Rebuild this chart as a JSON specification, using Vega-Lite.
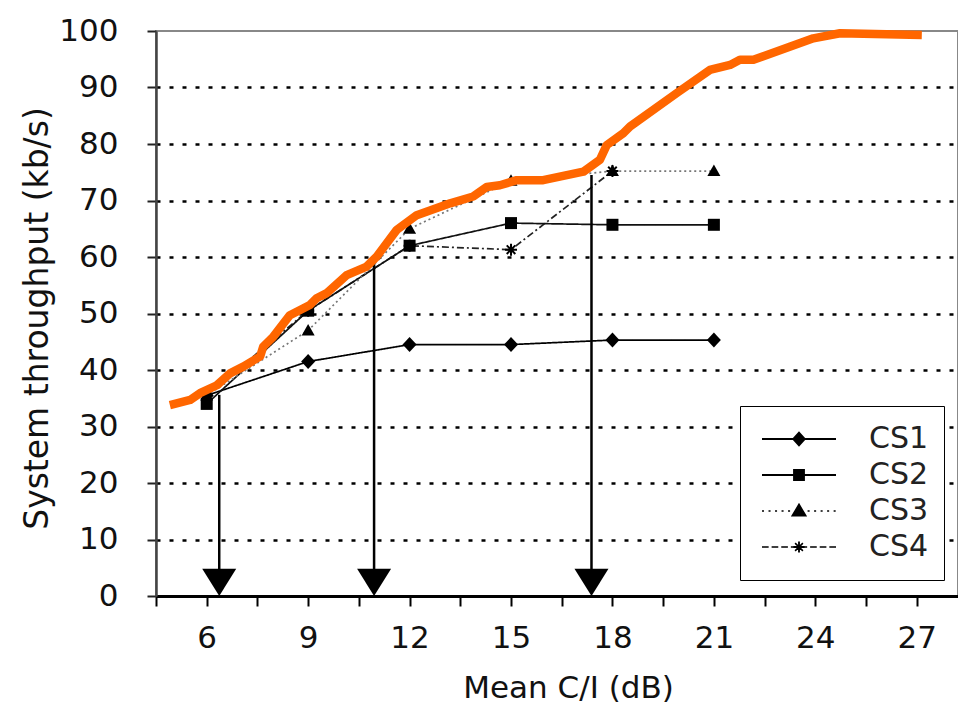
{
  "$schema": "https://vega.github.io/schema/vega-lite/v6.json",
  "width": 802,
  "height": 565,
  "autosize": {"type": "none"},
  "padding": {"left": 156, "top": 31, "right": 0, "bottom": 111},
  "background": "white",
  "config": {"view": {"stroke": "#888", "strokeWidth": 2}, "font": "DejaVu Sans"},
  "datasets": {
    "series": [
      {"scheme": "CS4", "snr": 6, "tput": 35.5},
      {"scheme": "CS4", "snr": 9, "tput": 50.5},
      {"scheme": "CS4", "snr": 12, "tput": 62},
      {"scheme": "CS4", "snr": 15, "tput": 61.3},
      {"scheme": "CS4", "snr": 18, "tput": 75.2},
      {"scheme": "CS1", "snr": 6, "tput": 35.5},
      {"scheme": "CS1", "snr": 9, "tput": 41.5},
      {"scheme": "CS1", "snr": 12, "tput": 44.5},
      {"scheme": "CS1", "snr": 15, "tput": 44.5},
      {"scheme": "CS1", "snr": 18, "tput": 45.3},
      {"scheme": "CS1", "snr": 21, "tput": 45.3},
      {"scheme": "CS2", "snr": 6, "tput": 34},
      {"scheme": "CS2", "snr": 9, "tput": 50.5},
      {"scheme": "CS2", "snr": 12, "tput": 62},
      {"scheme": "CS2", "snr": 15, "tput": 66},
      {"scheme": "CS2", "snr": 18, "tput": 65.7},
      {"scheme": "CS2", "snr": 21, "tput": 65.7},
      {"scheme": "CS3", "snr": 6, "tput": 35.5},
      {"scheme": "CS3", "snr": 9, "tput": 47},
      {"scheme": "CS3", "snr": 12, "tput": 65},
      {"scheme": "CS3", "snr": 15, "tput": 73.5},
      {"scheme": "CS3", "snr": 18, "tput": 75.2},
      {"scheme": "CS3", "snr": 21, "tput": 75.2}
    ],
    "envelope": [
      {"snr": 4.91, "tput": 33.8},
      {"snr": 5.51, "tput": 34.7},
      {"snr": 5.8, "tput": 35.9},
      {"snr": 6.3, "tput": 37.3},
      {"snr": 6.69, "tput": 39.4},
      {"snr": 7.08, "tput": 40.6},
      {"snr": 7.58, "tput": 42.4},
      {"snr": 7.67, "tput": 44.1},
      {"snr": 7.97, "tput": 45.9},
      {"snr": 8.46, "tput": 49.7},
      {"snr": 9.05, "tput": 51.5},
      {"snr": 9.25, "tput": 52.7},
      {"snr": 9.55, "tput": 53.6},
      {"snr": 10.14, "tput": 56.8},
      {"snr": 10.73, "tput": 58.3},
      {"snr": 11.03, "tput": 60.1},
      {"snr": 11.62, "tput": 64.8},
      {"snr": 12.21, "tput": 67.4},
      {"snr": 13.2, "tput": 69.5},
      {"snr": 13.88, "tput": 70.7},
      {"snr": 14.28, "tput": 72.4},
      {"snr": 14.67, "tput": 72.7},
      {"snr": 15.17, "tput": 73.6},
      {"snr": 15.95, "tput": 73.6},
      {"snr": 17.14, "tput": 75.1},
      {"snr": 17.63, "tput": 77.2},
      {"snr": 17.83, "tput": 79.8},
      {"snr": 18.32, "tput": 81.9},
      {"snr": 18.52, "tput": 83.1},
      {"snr": 19.9, "tput": 89.0},
      {"snr": 20.88, "tput": 93.1},
      {"snr": 21.48, "tput": 94.0},
      {"snr": 21.77, "tput": 94.9},
      {"snr": 22.17, "tput": 94.9},
      {"snr": 23.94, "tput": 98.7},
      {"snr": 24.73, "tput": 99.6},
      {"snr": 27.15, "tput": 99.3}
    ],
    "arrows": [
      {"snr": 6.37, "tput": 35.6},
      {"snr": 10.95, "tput": 59.6},
      {"snr": 17.38, "tput": 74.5}
    ]
  },
  "layer": [
    {
      "data": {"name": "series"},
      "mark": {"type": "line", "strokeWidth": 1.7},
      "encoding": {
        "x": {
          "field": "snr",
          "type": "quantitative",
          "scale": {"domain": [4.5, 28.22], "nice": false, "zero": false},
          "axis": {
            "title": "Mean C/I (dB)",
            "values": [4.5, 6, 7.5, 9, 10.5, 12, 13.5, 15, 16.5, 18, 19.5, 21, 22.5, 24, 25.5, 27],
            "labelExpr": "datum.value % 3 === 0 ? datum.label : ''",
            "grid": false,
            "domainColor": "black",
            "domainWidth": 3,
            "tickColor": "black",
            "tickWidth": 2,
            "tickSize": 10,
            "labelPadding": 17,
            "labelFont": "DejaVu Sans",
            "labelFontSize": 31,
            "labelColor": "#111",
            "labelFlush": false,
            "labelOverlap": false,
            "titleFont": "DejaVu Sans",
            "titleFontSize": 31,
            "titleFontWeight": "normal",
            "titleColor": "#111",
            "titleX": 412,
            "titleY": 101,
            "titleBaseline": "alphabetic",
            "titleAlign": "center"
          }
        },
        "y": {
          "field": "tput",
          "type": "quantitative",
          "scale": {"domain": [0, 100], "nice": false},
          "axis": {
            "title": "System throughput (kb/s)",
            "values": [0, 10, 20, 30, 40, 50, 60, 70, 80, 90, 100],
            "grid": true,
            "gridColor": "black",
            "gridDash": [4, 9],
            "gridWidth": 2.5,
            "gridOpacity": {"condition": {"test": "datum.value === 0 || datum.value === 100", "value": 0}, "value": 1},
            "domainColor": "#444",
            "domainWidth": 2.5,
            "tickColor": "#222",
            "tickWidth": 2,
            "tickSize": 9,
            "labelPadding": 29,
            "labelFont": "DejaVu Sans",
            "labelFontSize": 31,
            "labelColor": "#111",
            "labelFlush": false,
            "labelOverlap": false,
            "titleFont": "DejaVu Sans",
            "titleFontSize": 33,
            "titleFontWeight": "normal",
            "titleColor": "#111",
            "titleX": -109,
            "titleY": 287,
            "titleAngle": -90,
            "titleBaseline": "alphabetic",
            "titleAlign": "center"
          }
        },
        "color": {
          "field": "scheme",
          "type": "nominal",
          "scale": {"domain": ["CS1", "CS2", "CS3", "CS4"], "range": ["#000000", "#111111", "#777777", "#222222"]},
          "legend": null
        },
        "strokeDash": {
          "field": "scheme",
          "type": "nominal",
          "scale": {"domain": ["CS1", "CS2", "CS3", "CS4"], "range": [[1, 0], [1, 0], [2, 3], [7, 3, 2, 3]]},
          "legend": null
        }
      }
    },
    {
      "data": {"name": "series"},
      "mark": {"type": "point", "filled": true, "color": "black", "opacity": 1, "size": 400, "strokeWidth": 0},
      "encoding": {
        "x": {"field": "snr", "type": "quantitative"},
        "y": {"field": "tput", "type": "quantitative"},
        "shape": {
          "field": "scheme",
          "type": "nominal",
          "scale": {
            "domain": ["CS1", "CS2", "CS3", "CS4"],
            "range": [
              "M0,-0.75L0.7,0L0,0.75L-0.7,0Z",
              "M-0.6,-0.6H0.6V0.6H-0.6Z",
              "M0,-0.65L0.65,0.5L-0.65,0.5Z",
              "M-0.6,-0.1H0.6V0.1H-0.6Z M-0.1,-0.6H0.1V0.6H-0.1Z M-0.5,-0.36L-0.36,-0.5L0.5,0.36L0.36,0.5Z M0.36,-0.5L0.5,-0.36L-0.36,0.5L-0.5,0.36Z"
            ]
          },
          "legend": null
        }
      }
    },
    {
      "data": {"name": "series"},
      "mark": {"type": "point", "filled": true, "color": "black", "opacity": 0, "size": 5476, "strokeWidth": 0},
      "encoding": {
        "x": {"field": "snr", "type": "quantitative"},
        "y": {"field": "tput", "type": "quantitative"},
        "shape": {
          "field": "scheme",
          "type": "nominal",
          "scale": {
            "domain": ["CS1", "CS2", "CS3", "CS4"],
            "range": [
              "M-1,-0.03H1V0.03H-1Z M0,-0.21L0.19,0L0,0.21L-0.19,0Z",
              "M-1,-0.03H1V0.03H-1Z M-0.16,-0.16H0.16V0.16H-0.16Z",
              "M-1,-0.02H-0.945V0.02H-1Z M-0.824,-0.02H-0.769V0.02H-0.824Z M-0.648,-0.02H-0.593V0.02H-0.648Z M-0.472,-0.02H-0.417V0.02H-0.472Z M-0.296,-0.02H-0.241V0.02H-0.296Z M-0.12,-0.02H-0.065V0.02H-0.12Z M0.056,-0.02H0.111V0.02H0.056Z M0.232,-0.02H0.287V0.02H0.232Z M0.408,-0.02H0.463V0.02H0.408Z M0.584,-0.02H0.639V0.02H0.584Z M0.76,-0.02H0.815V0.02H0.76Z M0.936,-0.02H0.991V0.02H0.936Z M0,-0.22L0.22,0.15L-0.22,0.15Z",
              "M-1,-0.02H-0.82V0.02H-1Z M-0.74,-0.02H-0.56V0.02H-0.74Z M-0.48,-0.02H-0.3V0.02H-0.48Z M-0.22,-0.02H-0.04V0.02H-0.22Z M0.04,-0.02H0.22V0.02H0.04Z M0.3,-0.02H0.48V0.02H0.3Z M0.56,-0.02H0.74V0.02H0.56Z M0.82,-0.02H1V0.02H0.82Z M-0.15,-0.025H0.15V0.025H-0.15Z M-0.025,-0.15H0.025V0.15H-0.025Z M-0.12,-0.09L-0.09,-0.12L0.12,0.09L0.09,0.12Z M0.09,-0.12L0.12,-0.09L-0.09,0.12L-0.12,0.09Z"
            ]
          },
          "legend": {
            "title": null,
            "orient": "none",
            "legendX": 584,
            "legendY": 375,
            "direction": "vertical",
            "padding": 15,
            "symbolSize": 5476,
            "symbolOffset": 7,
            "symbolFillColor": "black",
            "symbolStrokeColor": "black",
            "symbolStrokeWidth": 0,
            "symbolOpacity": 1,
            "clipHeight": 36,
            "rowPadding": 0,
            "labelOffset": 33,
            "labelFont": "DejaVu Sans",
            "labelFontSize": 30,
            "labelColor": "#222",
            "labelExpr": "datum.label + ' '",
            "labelLimit": 300,
            "fillColor": "white",
            "strokeColor": "black",
            "encode": {
              "legend": {"update": {"stroke": {"value": "black"}, "strokeWidth": {"value": 3}, "fill": {"value": "white"}}},
              "symbols": {"update": {"opacity": {"value": 1}, "fill": {"value": "black"}, "strokeWidth": {"value": 0}}}
            }
          }
        }
      }
    },
    {
      "data": {"name": "arrows"},
      "mark": {"type": "rule", "color": "black", "strokeWidth": 2.5},
      "encoding": {
        "x": {"field": "snr", "type": "quantitative"},
        "y": {"field": "tput", "type": "quantitative"},
        "y2": {"datum": 3}
      }
    },
    {
      "data": {"name": "arrows"},
      "mark": {"type": "point", "filled": true, "color": "black", "opacity": 1, "size": 1156, "strokeWidth": 0, "shape": "M-1,-0.8L1,-0.8L0,0.8Z"},
      "encoding": {
        "x": {"field": "snr", "type": "quantitative"},
        "y": {"datum": 2.4, "type": "quantitative"}
      }
    },
    {
      "data": {"name": "envelope"},
      "mark": {"type": "line", "color": "#FF6600", "strokeWidth": 8.5, "strokeJoin": "round"},
      "encoding": {
        "x": {"field": "snr", "type": "quantitative"},
        "y": {"field": "tput", "type": "quantitative"}
      }
    }
  ],
  "resolve": {"scale": {"shape": "independent"}}
}
